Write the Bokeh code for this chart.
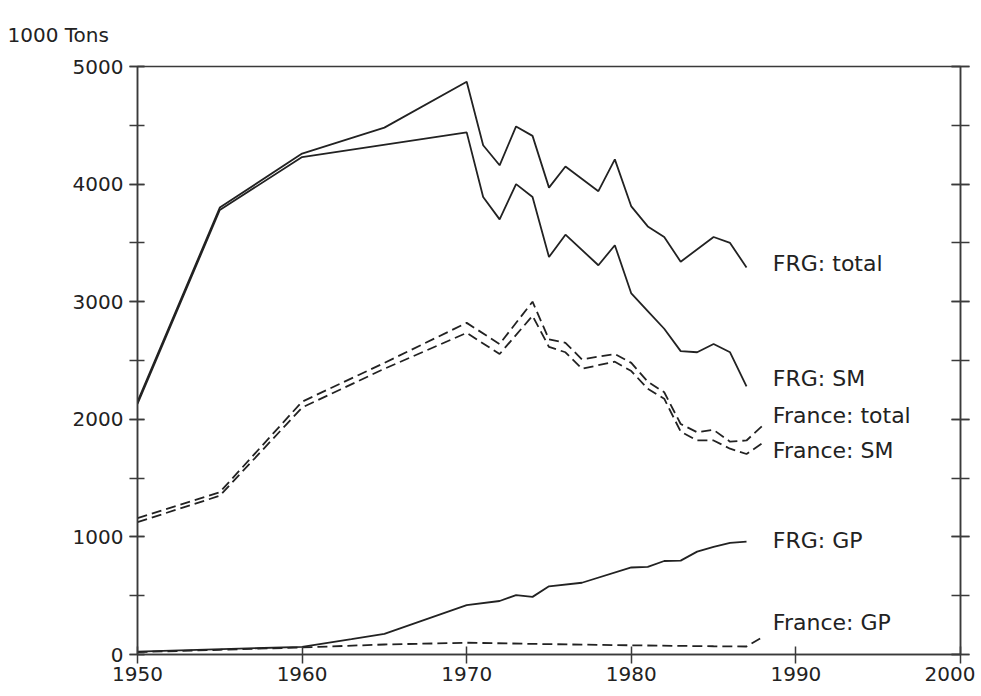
from bokeh.plotting import figure
from bokeh.models import (Range1d, LinearAxis, SingleIntervalTicker, Label,
                          CustomJSTickFormatter)
from bokeh.embed import file_html
from bokeh.resources import INLINE

# ---- data ----
frg_total_years = [1950, 1955, 1960, 1965, 1970, 1971, 1972, 1973, 1974, 1975,
                   1976, 1978, 1979, 1980, 1981, 1982, 1983, 1985, 1986, 1987]
frg_total = [2150, 3800, 4260, 4480, 4870, 4330, 4160, 4490, 4410, 3970,
             4150, 3940, 4210, 3810, 3640, 3550, 3340, 3550, 3500, 3290]

frg_sm_years = [1950, 1955, 1960, 1970, 1971, 1972, 1973, 1974, 1975, 1976,
                1978, 1979, 1980, 1981, 1982, 1983, 1984, 1985, 1986, 1987]
frg_sm = [2130, 3780, 4230, 4440, 3890, 3700, 4000, 3890, 3380, 3570,
          3310, 3480, 3070, 2920, 2770, 2580, 2570, 2640, 2570, 2280]

fr_total_years = [1950, 1955, 1960, 1965, 1970, 1972, 1974, 1975, 1976, 1977,
                  1979, 1980, 1981, 1982, 1983, 1984, 1985, 1986, 1987, 1988]
fr_total = [1160, 1380, 2150, 2480, 2820, 2640, 3000, 2680, 2650, 2510,
            2555, 2480, 2320, 2230, 1960, 1890, 1910, 1810, 1820, 1950]

fr_sm_years = [1950, 1955, 1960, 1965, 1970, 1972, 1974, 1975, 1976, 1977,
               1979, 1980, 1981, 1982, 1983, 1984, 1985, 1986, 1987, 1988]
fr_sm = [1125, 1350, 2100, 2430, 2735, 2555, 2880, 2615, 2570, 2430,
         2490, 2410, 2260, 2175, 1895, 1820, 1820, 1750, 1705, 1800]

frg_gp_years = [1950, 1960, 1963, 1965, 1970, 1972, 1973, 1974, 1975, 1977,
                1980, 1981, 1982, 1983, 1984, 1985, 1986, 1987]
frg_gp = [25, 65, 130, 175, 420, 455, 505, 490, 580, 610,
          740, 745, 795, 798, 875, 915, 950, 960]

fr_gp_years = [1950, 1955, 1960, 1965, 1970, 1975, 1980, 1985, 1987, 1988]
fr_gp = [20, 40, 60, 85, 100, 88, 78, 70, 68, 150]

series_labels = ["FRG: total", "FRG: SM", "France: total", "France: SM",
                 "FRG: GP", "France: GP"]
label_values = [3326, 2351, 2034, 1738, 973, 268]
label_year = 1988.6

x_ticks = [1950, 1960, 1970, 1980, 1990, 2000]
y_title = "1000 Tons"

# ---- figure ----
INK = "#222222"
AX = "#3a3a3a"
FONT = "DejaVu Sans"

p = figure(width=975, height=690, output_backend="svg", toolbar_location=None,
           x_range=Range1d(1950, 2000), y_range=Range1d(0, 5000),
           min_border_left=137, min_border_right=15,
           min_border_top=66, min_border_bottom=36)
p.background_fill_color = "white"
p.border_fill_color = "white"
p.outline_line_color = AX
p.outline_line_width = 1.5
p.grid.visible = False

p.title.text = y_title
p.title.align = "left"
p.title.offset = -130
p.title.standoff = 40
p.title.text_font = FONT
p.title.text_font_size = "20px"
p.title.text_font_style = "normal"
p.title.text_color = INK

p.xaxis.ticker = x_ticks
p.xaxis.axis_line_color = AX
p.xaxis.axis_line_width = 1.5
p.xaxis.major_tick_line_color = AX
p.xaxis.major_tick_line_width = 1.5
p.xaxis.major_tick_in = 8
p.xaxis.major_tick_out = 9
p.xaxis.minor_tick_line_color = None
p.xaxis.major_label_standoff = 3
p.xaxis.major_label_text_font = FONT
p.xaxis.major_label_text_font_size = "20px"
p.xaxis.major_label_text_color = INK

yt = SingleIntervalTicker(interval=1000, num_minor_ticks=2)
p.yaxis.ticker = yt
p.yaxis.axis_line_color = AX
p.yaxis.axis_line_width = 1.5
for ax in [p.yaxis[0]]:
    ax.major_tick_line_color = AX
    ax.major_tick_line_width = 1.5
    ax.minor_tick_line_color = AX
    ax.minor_tick_line_width = 1.5
    ax.major_tick_in = 7
    ax.major_tick_out = 8
    ax.minor_tick_in = 7
    ax.minor_tick_out = 8
    ax.major_label_standoff = 6
    ax.major_label_text_font = FONT
    ax.major_label_text_font_size = "20px"
    ax.major_label_text_color = INK

ra = LinearAxis(ticker=SingleIntervalTicker(interval=1000, num_minor_ticks=2),
                formatter=CustomJSTickFormatter(code="return ''"))
ra.axis_line_color = AX
ra.axis_line_width = 1.5
ra.major_tick_line_color = AX
ra.major_tick_line_width = 1.5
ra.minor_tick_line_color = AX
ra.minor_tick_line_width = 1.5
ra.major_tick_in = 9
ra.major_tick_out = 9
ra.minor_tick_in = 9
ra.minor_tick_out = 9
ra.major_label_text_font_size = "1px"
p.add_layout(ra, "right")

DASH = "10 5"
p.line(frg_total_years, frg_total, line_color=INK, line_width=1.8)
p.line(frg_sm_years, frg_sm, line_color=INK, line_width=1.8)
p.line(fr_total_years, fr_total, line_color=INK, line_width=1.8, line_dash=DASH)
p.line(fr_sm_years, fr_sm, line_color=INK, line_width=1.8, line_dash=DASH)
p.line(frg_gp_years, frg_gp, line_color=INK, line_width=1.8)
p.line(fr_gp_years, fr_gp, line_color=INK, line_width=1.8, line_dash=DASH)

for txt, v in zip(series_labels, label_values):
    p.add_layout(Label(x=label_year, y=v, text=txt, text_font=FONT,
                       text_font_size="22px", text_color=INK,
                       text_baseline="middle", text_align="left"))

open("out.html", "w").write(file_html(p, INLINE))
